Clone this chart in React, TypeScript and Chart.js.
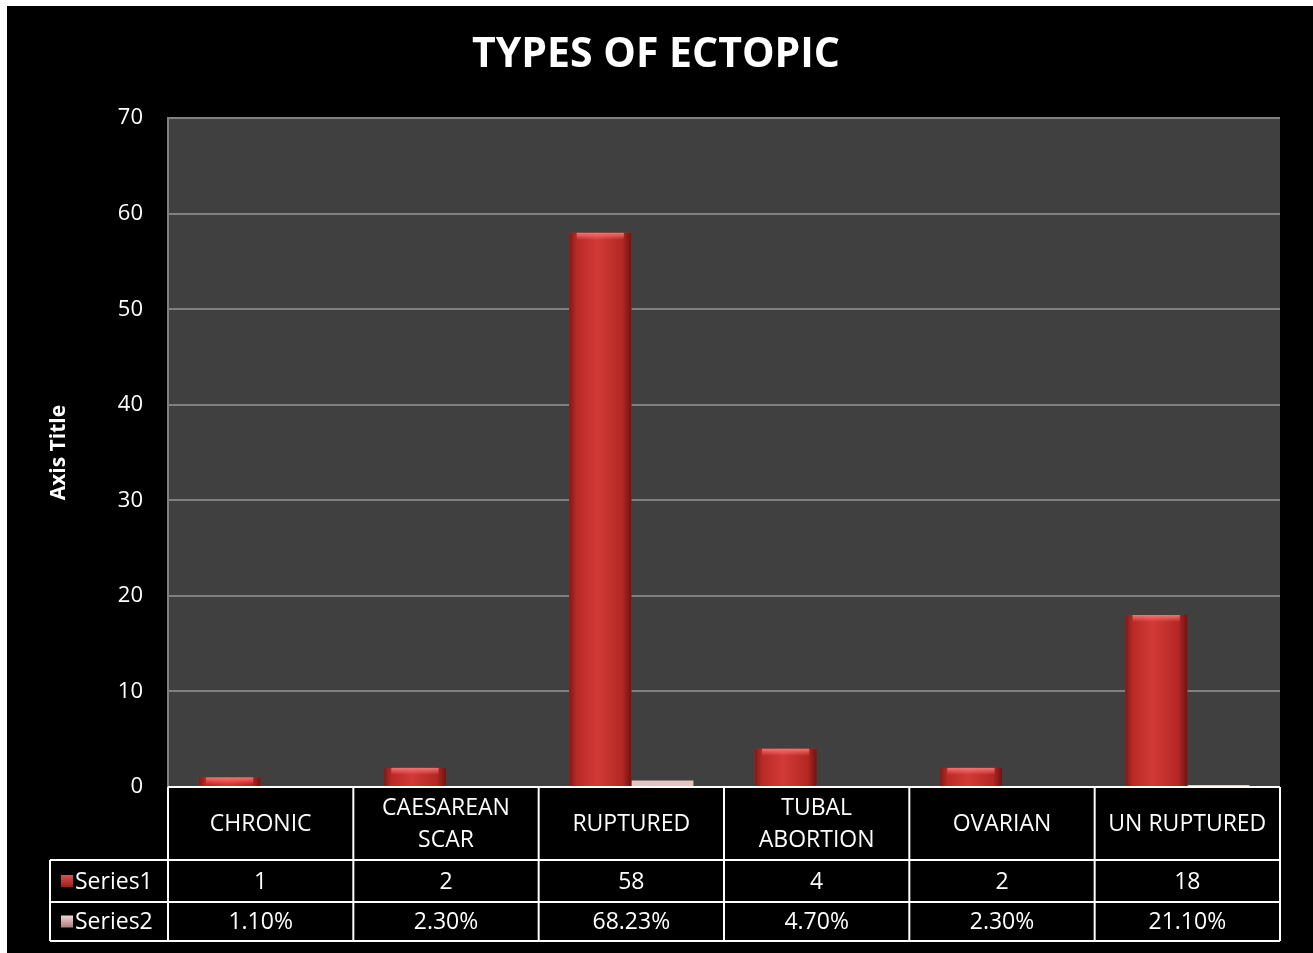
import React, { useEffect, useRef } from "react";
import { Chart, registerables } from "chart.js";

Chart.register(...registerables);

// Category labels (multi-line where the table header wraps)
const categories: string[][] = [
  ["CHRONIC"],
  ["CAESAREAN", "SCAR"],
  ["RUPTURED"],
  ["TUBAL", "ABORTION"],
  ["OVARIAN"],
  ["UN RUPTURED"],
];

// Case counts
const series1: number[] = [1, 2, 58, 4, 2, 18];

// Share of cases, in percent (plotted as fractions on the count axis)
const series2Pct: number[] = [1.1, 2.3, 68.23, 4.7, 2.3, 21.1];

const yTicks = { min: 0, max: 70, step: 10 };

const FONT = "'Open Sans', sans-serif";

const plotBackground = {
  id: "plotBackground",
  beforeDraw(chart: any) {
    const { ctx, chartArea } = chart;
    ctx.save();
    ctx.fillStyle = "#404040";
    ctx.fillRect(chartArea.left, chartArea.top, chartArea.right - chartArea.left, chartArea.bottom - chartArea.top);
    ctx.restore();
  },
};

// Cylinder-like shading on the count bars
const barShading = {
  id: "barShading",
  afterDatasetsDraw(chart: any) {
    const { ctx } = chart;
    const meta = chart.getDatasetMeta(0);
    ctx.save();
    meta.data.forEach((bar: any) => {
      const { x, y, base, width } = bar.getProps(["x", "y", "base", "width"], true);
      const l = x - width / 2;
      const h = base - y;
      if (h <= 0) return;
      const g = ctx.createLinearGradient(l, 0, l + width, 0);
      g.addColorStop(0, "#7d1a18");
      g.addColorStop(0.12, "#b92a27");
      g.addColorStop(0.45, "#d23a36");
      g.addColorStop(0.85, "#b42825");
      g.addColorStop(1, "#6e1412");
      ctx.fillStyle = g;
      ctx.fillRect(l, y, width, h);
      // lighter cap at the top
      const capH = Math.min(7, h);
      const cg = ctx.createLinearGradient(0, y, 0, y + capH);
      cg.addColorStop(0, "rgba(255,120,120,0.9)");
      cg.addColorStop(1, "rgba(255,120,120,0)");
      ctx.fillStyle = cg;
      ctx.fillRect(l + width * 0.12, y, width * 0.76, capH);
    });
    ctx.restore();
  },
};

// Data table under the plot, aligned with the category scale
const dataTable = {
  id: "dataTable",
  afterDraw(chart: any) {
    const { ctx, chartArea, scales } = chart;
    const xs = scales.x;
    const n = categories.length;
    const colW = (chartArea.right - chartArea.left) / n;
    const top = chartArea.bottom;
    const headBottom = top + 73;
    const r1Bottom = headBottom + 42;
    const r2Bottom = r1Bottom + 39;
    const legendLeft = 43;

    ctx.save();
    ctx.strokeStyle = "#ffffff";
    ctx.lineWidth = 2;
    ctx.beginPath();
    // horizontal lines
    ctx.moveTo(chartArea.left, top);
    ctx.lineTo(chartArea.right, top);
    ctx.moveTo(legendLeft, headBottom);
    ctx.lineTo(chartArea.right, headBottom);
    ctx.moveTo(legendLeft, r1Bottom);
    ctx.lineTo(chartArea.right, r1Bottom);
    ctx.moveTo(legendLeft, r2Bottom);
    ctx.lineTo(chartArea.right, r2Bottom);
    // vertical lines
    for (let i = 0; i <= n; i++) {
      const xx = i < n ? xs.getPixelForValue(i) - colW / 2 : xs.getPixelForValue(n - 1) + colW / 2;
      ctx.moveTo(xx, top);
      ctx.lineTo(xx, r2Bottom);
    }
    ctx.moveTo(legendLeft, headBottom);
    ctx.lineTo(legendLeft, r2Bottom);
    ctx.stroke();

    ctx.fillStyle = "#ffffff";
    ctx.font = `23px ${FONT}`;
    ctx.textAlign = "center";
    ctx.textBaseline = "middle";
    const lh = 32;
    categories.forEach((lines, i) => {
      const cx = xs.getPixelForValue(i);
      const cy = (top + headBottom) / 2 + 1;
      lines.forEach((t, k) => {
        ctx.fillText(t, cx, cy + (k - (lines.length - 1) / 2) * lh);
      });
      ctx.fillText(String(series1[i]), cx, (headBottom + r1Bottom) / 2 + 1);
      ctx.fillText(series2Pct[i].toFixed(2) + "%", cx, (r1Bottom + r2Bottom) / 2 + 1);
    });

    // legend keys
    const keys = [
      { label: "Series1", c1: "#e05050", c2: "#9a1e1c", y: (headBottom + r1Bottom) / 2 },
      { label: "Series2", c1: "#f2d4d4", c2: "#b07a7a", y: (r1Bottom + r2Bottom) / 2 },
    ];
    keys.forEach((k) => {
      const g = ctx.createLinearGradient(0, k.y - 6, 0, k.y + 6);
      g.addColorStop(0, k.c1);
      g.addColorStop(1, k.c2);
      ctx.fillStyle = g;
      ctx.fillRect(54, k.y - 6, 12, 12);
      ctx.fillStyle = "#ffffff";
      ctx.textAlign = "left";
      ctx.fillText(k.label, 68, k.y + 1);
    });
    ctx.restore();
  },
};

export default function App() {
  const ref = useRef<HTMLCanvasElement>(null);

  useEffect(() => {
    if (!ref.current) return;
    const chart = new Chart(ref.current, {
      type: "bar",
      data: {
        labels: categories.map((c) => c.join(" ")),
        datasets: [
          {
            label: "Series1",
            data: series1,
            backgroundColor: "#c0302c",
            categoryPercentage: 0.67,
            barPercentage: 1,
          },
          {
            label: "Series2",
            data: series2Pct.map((p) => p / 100),
            backgroundColor: "#e6c4c4",
            categoryPercentage: 0.67,
            barPercentage: 1,
          },
        ],
      },
      options: {
        responsive: false,
        animation: false,
        layout: { padding: { left: 25, right: 33, top: 0, bottom: 0 } },
        plugins: {
          legend: { display: false },
          tooltip: { enabled: false },
          title: {
            display: true,
            text: "TYPES OF ECTOPIC",
            color: "#ffffff",
            font: { family: FONT, size: 41, weight: "bold" },
            padding: { top: 25, bottom: 38 },
          },
        },
        scales: {
          x: {
            ticks: { display: false },
            grid: { display: false },
            border: { display: false },
            afterFit: (s: any) => {
              s.height = 166;
            },
          },
          y: {
            min: yTicks.min,
            max: yTicks.max,
            ticks: {
              stepSize: yTicks.step,
              color: "#ffffff",
              font: { family: FONT, size: 22 },
              padding: 25,
            },
            grid: { color: "#808080", lineWidth: 2, drawTicks: false },
            border: { display: true, color: "#808080", width: 2 },
            title: {
              display: true,
              text: "Axis Title",
              color: "#ffffff",
              font: { family: FONT, size: 21, weight: "bold" },
              padding: { top: 14, bottom: 0 },
            },
            afterFit: (s: any) => {
              s.width = 136;
            },
          },
        },
      },
      plugins: [plotBackground, barShading, dataTable],
    });
    return () => chart.destroy();
  }, []);

  return (
    <div style={{ position: "fixed", left: 7, top: 6, width: 1306, height: 947, background: "#000" }}>
      <canvas ref={ref} width={1306} height={947} />
    </div>
  );
}
